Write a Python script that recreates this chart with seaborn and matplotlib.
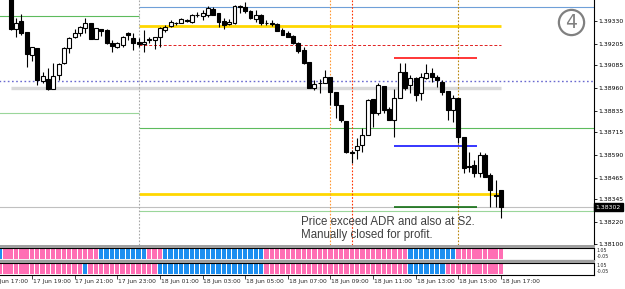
import numpy as np
import pandas as pd
import seaborn as sns
import matplotlib.pyplot as plt
from matplotlib.patches import Rectangle
from matplotlib.transforms import blended_transform_factory

# M15 bars, bar 0 = 17 Jun 17:00
bars = list(range(4, 97))
opens = [1.39463, 1.39284, 1.39332, 1.39268, 1.39142, 1.39179, 1.39000, 1.39008, 1.38953, 1.39032,
         1.39096, 1.39179, 1.39240, 1.39262, 1.39290, 1.39317, 1.39231, 1.39284, 1.39280, 1.39207,
         1.39188, 1.39198, 1.39264, 1.39238, 1.39214, 1.39201, 1.39225, 1.39225, 1.39240, 1.39280,
         1.39302, 1.39317, 1.39321, 1.39334, 1.39326, 1.39363, 1.39358, 1.39363, 1.39396, 1.39373,
         1.39332, 1.39312, 1.39317, 1.39415, 1.39409, 1.39387, 1.39341, 1.39363, 1.39321, 1.39319,
         1.39313, 1.39280, 1.39262, 1.39247, 1.39210, 1.39170, 1.39105, 1.38958, 1.38988, 1.38989,
         1.39022, 1.38940, 1.38866, 1.38778, 1.38607, 1.38618, 1.38645, 1.38701, 1.38898, 1.38820,
         1.38973, 1.38842, 1.38783, 1.38903, 1.39050, 1.38977, 1.39014, 1.38931, 1.39014, 1.39041,
         1.39022, 1.38995, 1.38945, 1.38839, 1.38903, 1.38691, 1.38529, 1.38535, 1.38489, 1.38590,
         1.38480, 1.38369, 1.38397]
highs = [1.39501, 1.39345, 1.39369, 1.39268, 1.39188, 1.39179, 1.39050, 1.39069, 1.39100, 1.39096,
         1.39188, 1.39240, 1.39284, 1.39302, 1.39345, 1.39321, 1.39291, 1.39284, 1.39284, 1.39225,
         1.39216, 1.39247, 1.39271, 1.39262, 1.39236, 1.39280, 1.39240, 1.39242, 1.39299, 1.39308,
         1.39336, 1.39326, 1.39345, 1.39339, 1.39369, 1.39381, 1.39391, 1.39413, 1.39409, 1.39376,
         1.39345, 1.39339, 1.39418, 1.39418, 1.39437, 1.39391, 1.39391, 1.39369, 1.39336, 1.39336,
         1.39317, 1.39290, 1.39276, 1.39253, 1.39216, 1.39185, 1.39105, 1.39004, 1.39008, 1.39060,
         1.39022, 1.38940, 1.38866, 1.38778, 1.38618, 1.38684, 1.38738, 1.38898, 1.38898, 1.38986,
         1.38973, 1.38857, 1.38953, 1.39096, 1.39096, 1.39032, 1.39019, 1.39041, 1.39093, 1.39069,
         1.39032, 1.39004, 1.38945, 1.38921, 1.38903, 1.38691, 1.38608, 1.38562, 1.38608, 1.38600,
         1.38489, 1.38452, 1.38397]
lows = [1.39280, 1.39240, 1.39254, 1.39078, 1.39111, 1.38977, 1.38989, 1.38949, 1.38952, 1.39004,
        1.39093, 1.39155, 1.39235, 1.39247, 1.39262, 1.39229, 1.39229, 1.39247, 1.39203, 1.39161,
        1.39179, 1.39188, 1.39225, 1.39170, 1.39186, 1.39161, 1.39207, 1.39174, 1.39188, 1.39271,
        1.39295, 1.39308, 1.39317, 1.39326, 1.39321, 1.39350, 1.39336, 1.39354, 1.39363, 1.39295,
        1.39284, 1.39310, 1.39315, 1.39376, 1.39376, 1.39339, 1.39326, 1.39308, 1.39308, 1.39302,
        1.39276, 1.39253, 1.39243, 1.39203, 1.39152, 1.39093, 1.38958, 1.38949, 1.38934, 1.38986,
        1.38866, 1.38793, 1.38774, 1.38600, 1.38544, 1.38568, 1.38608, 1.38701, 1.38746, 1.38811,
        1.38822, 1.38783, 1.38691, 1.38903, 1.38949, 1.38931, 1.38890, 1.38894, 1.39008, 1.38995,
        1.38967, 1.38921, 1.38783, 1.38774, 1.38655, 1.38489, 1.38498, 1.38470, 1.38470, 1.38470,
        1.38305, 1.38305, 1.38241]
closes = [1.39286, 1.39321, 1.39262, 1.39146, 1.39185, 1.39004, 1.39026, 1.38953, 1.39026, 1.39091,
          1.39183, 1.39235, 1.39262, 1.39295, 1.39321, 1.39231, 1.39290, 1.39276, 1.39207, 1.39192,
          1.39207, 1.39243, 1.39253, 1.39210, 1.39203, 1.39216, 1.39228, 1.39240, 1.39290, 1.39299,
          1.39326, 1.39319, 1.39341, 1.39330, 1.39363, 1.39365, 1.39376, 1.39400, 1.39363, 1.39326,
          1.39308, 1.39323, 1.39413, 1.39406, 1.39387, 1.39345, 1.39363, 1.39317, 1.39320, 1.39315,
          1.39276, 1.39253, 1.39243, 1.39207, 1.39166, 1.39096, 1.38958, 1.38982, 1.38989, 1.39019,
          1.38940, 1.38866, 1.38783, 1.38608, 1.38601, 1.38640, 1.38701, 1.38894, 1.38820, 1.38977,
          1.38839, 1.38783, 1.38903, 1.39050, 1.38958, 1.39014, 1.38921, 1.39019, 1.39041, 1.39022,
          1.39004, 1.38940, 1.38839, 1.38903, 1.38691, 1.38517, 1.38525, 1.38489, 1.38590, 1.38470,
          1.38397, 1.38366, 1.38302]

# signal panels (B = blue, P = pink), run lengths starting at bar 2
sig1_runs = [("B", 1), ("P", 18), ("B", 9), ("P", 3), ("B", 19), ("P", 27), ("B", 9), ("P", 9)]
sig2_runs = [("P", 16), ("B", 1), ("P", 13), ("B", 20), ("P", 27), ("B", 7), ("P", 11)]

# levels
prev_hi, prev_lo = 1.39358, 1.38820
adr_top = 1.39406
r_gold, r_dash = 1.39304, 1.39198
pivot_green, s_gold, s2_green = 1.38739, 1.38373, 1.38283
round_level = 1.39000
grey_level = 1.38958
trade_red, trade_blue, trade_green = 1.39124, 1.38641, 1.38301
last_price = 1.38302
day_start = 28
trade_from, trade_to = 76, 91.5
vlines_at = [28, 64, 68, 88]
vline_cols = ["#a8a8a8", "#ff9933", "#ff3300", "#b8860b"]

price_ticks = [1.39330, 1.39205, 1.39085, 1.38960, 1.38835, 1.38715, 1.38590, 1.38465, 1.38345, 1.38220, 1.38100]
time_bars = [0, 8, 16, 24, 32, 40, 48, 56, 64, 72, 80, 88, 96]
time_labels = ["17 Jun 17:00", "17 Jun 19:00", "17 Jun 21:00", "17 Jun 23:00", "18 Jun 01:00",
               "18 Jun 03:00", "18 Jun 05:00", "18 Jun 07:00", "18 Jun 09:00", "18 Jun 11:00",
               "18 Jun 13:00", "18 Jun 15:00", "18 Jun 17:00"]

sns.set_style("white")
plt.rcParams['font.family'] = ['DejaVu Sans']

W, H = 625, 289
fig = plt.figure(figsize=(W / 100, H / 100), dpi=100)
fig.patch.set_facecolor("white")

def box(top, bottom):
    return [0, 1 - bottom / H, 594 / W, (bottom - top) / H]

ax = fig.add_axes(box(0, 245))
ax1 = fig.add_axes(box(247.5, 260))
ax2 = fig.add_axes(box(262.5, 275))

xlim = (2.0, 113.45)
ylim = (1.38093, 1.39446)

# --- levels
ax.hlines([prev_hi], 0, day_start, color="#5dbb5d", lw=0.8, zorder=1)
ax.hlines([prev_lo], 0, day_start, color="#9ad69a", lw=0.8, zorder=1)
ax.hlines([adr_top, pivot_green], day_start, 120, color=["#6fa0d8", "#5dbb5d"], lw=0.8, zorder=1)
ax.hlines([s2_green], day_start, 120, color="#9ad69a", lw=0.8, zorder=1)
ax.hlines([r_gold, s_gold], day_start, 96, color="#ffd700", lw=2.0, zorder=1)
ax.hlines([r_dash], day_start, 96, color="#e02020", lw=0.7, linestyles=(0, (3, 2)), zorder=1)
ax.hlines([round_level], 0, 120, color="#6a6ad0", lw=1.0, linestyles=(0, (1.2, 1.8)), zorder=1)
ax.hlines([grey_level], 4, 96, color="#d9d9d9", lw=2.4, zorder=1)
ax.hlines([last_price], 0, 120, color="#c0c0c0", lw=0.8, zorder=1)
ax.hlines([trade_red], trade_from, trade_to, color="#ff0000", lw=1.1, zorder=2)
ax.hlines([trade_blue], trade_from, trade_to, color="#0000ff", lw=1.1, zorder=2)
ax.hlines([trade_green], trade_from, trade_to, color="#006400", lw=1.1, zorder=2)
for xv, cv in zip(vlines_at, vline_cols):
    ax.axvline(xv, color=cv, lw=0.8, linestyle=(0, (1.5, 1.5)), zorder=1)

# --- candles
o = np.array(opens); c = np.array(closes)
up = c >= o
ax.vlines(bars, lows, highs, color="black", lw=0.8, zorder=3)
ax.bar(bars, np.abs(c - o), bottom=np.minimum(o, c), width=0.74,
       color=np.where(up, "white", "black"), edgecolor="black", linewidth=0.8, zorder=4)

ax.set_xlim(*xlim)
ax.set_ylim(*ylim)
ax.yaxis.tick_right()
ax.set_yticks(price_ticks)
ax.set_yticklabels([f"{p:.5f}" for p in price_ticks])
ax.tick_params(axis="y", right=True, length=2, width=0.6, pad=1.2, labelsize=4.4, colors="black")
ax.set_xticks([])
for s in ["left", "top", "bottom"]:
    ax.spines[s].set_visible(False)
ax.spines["right"].set_linewidth(0.8)
ax.spines["right"].set_color("black")
ax.text(1.0 + 4.5 / 594, 1.39455, "1.39455", transform=blended_transform_factory(ax.transAxes, ax.transData),
        ha="left", va="center", fontsize=4.4, clip_on=False)
ax.text(1.0 + 1.5 / 594, last_price, f"{last_price:.5f}", transform=blended_transform_factory(ax.transAxes, ax.transData),
        ha="left", va="center", fontsize=4.4, color="white", clip_on=False,
        bbox=dict(boxstyle="square,pad=0.3", fc="black", ec="black"))

# annotation
ax.text(58.5, 1.38204, "Price exceed ADR and also at S2.", family="Liberation Sans",
        fontsize=8.3, color="#404040", ha="left", va="baseline", zorder=6)
ax.text(58.5, 1.38130, "Manually closed for profit.", family="Liberation Sans",
        fontsize=8.3, color="#404040", ha="left", va="baseline", zorder=6)

# circled 4
ax.scatter([571.5 / 594], [1 - 22.5 / 245], transform=ax.transAxes, s=330, facecolors="none",
           edgecolors="#808080", linewidths=1.6, zorder=6)
ax.text(571.5 / 594, 1 - 23 / 245, "4", transform=ax.transAxes, ha="center", va="center",
        fontsize=13.5, color="#808080", zorder=7)

# --- signal panels
pal = {"B": "#1e8ff0", "P": "#ff6eb4"}
for axi, runs in [(ax1, sig1_runs), (ax2, sig2_runs)]:
    states = [s for s, n in runs for _ in range(n)]
    df = pd.DataFrame({"bar": range(2, 2 + len(states)), "on": 1.0, "state": states})
    sns.barplot(data=df, x="bar", y="on", hue="state", palette=pal, native_scale=True, dodge=False,
                width=0.82, errorbar=None, legend=False, saturation=1, linewidth=0, ax=axi)
    axi.set_xlim(*xlim)
    axi.set_ylim(-0.05, 1.05)
    axi.set_xlabel(""); axi.set_ylabel("")
    axi.set_yticks([])
    axi.set_xticks([])
    axi.spines["left"].set_visible(False)
    for s in ["top", "bottom", "right"]:
        axi.spines[s].set_visible(True)
        axi.spines[s].set_color("black")
        axi.spines[s].set_linewidth(0.8)
    axi.text(1.004, 0.78, "1.05", transform=axi.transAxes, fontsize=3.4, va="center", ha="left")
    axi.text(1.004, 0.3, "-0.05", transform=axi.transAxes, fontsize=3.4, va="center", ha="left")

ax2.set_xticks([b for b in time_bars if b >= xlim[0]])
ax2.tick_params(axis="x", bottom=True, length=3, width=0.6, labelbottom=False)
tb = blended_transform_factory(ax2.transData, ax2.transAxes)
for b, lab in zip(time_bars, time_labels):
    ax2.text(b + 0.15, -0.3, lab, transform=tb, ha="left", va="top", fontsize=4.3, clip_on=False)

# grey separators between panels
for top, bot in [(245, 247.5), (260, 262.5)]:
    fig.add_artist(Rectangle((0, 1 - bot / H), 595 / W, (bot - top) / H, transform=fig.transFigure,
                             color="#a0a0a0", lw=0))

fig.savefig("out.png", dpi=100, facecolor="white")
